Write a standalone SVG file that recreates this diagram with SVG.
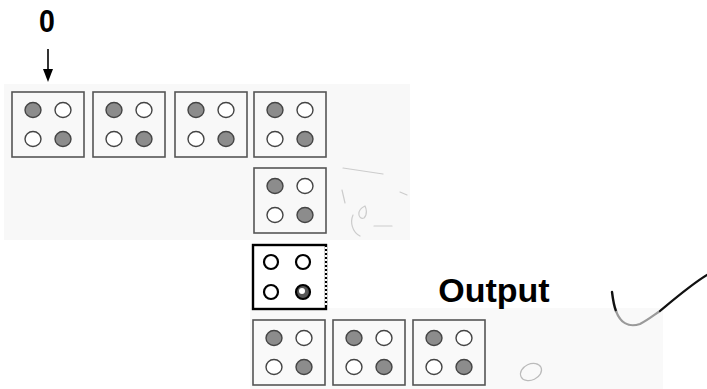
<svg xmlns="http://www.w3.org/2000/svg" width="707" height="389" viewBox="0 0 707 389">
<defs>
<style>
.box{fill:none;stroke:#555;stroke-width:1.6}
.bold{fill:#fff;stroke:#000;stroke-width:2.4}
.on{fill:#8c8c8c;stroke:#444;stroke-width:1.4}
.off{fill:#fff;stroke:#444;stroke-width:1.4}
.bon{fill:#555;stroke:#000;stroke-width:2.2}
.boff{fill:#fff;stroke:#000;stroke-width:2.2}
.lbl{font-family:"Liberation Sans",Arial,sans-serif;font-weight:bold;fill:#000}
.faint{fill:none;stroke:#ccc;stroke-width:1.2;stroke-linecap:round}
</style>
<g id="cell">
<rect class="box" x="0" y="0" width="72" height="65"/>
<ellipse class="on" cx="21" cy="18" rx="8" ry="7.5"/>
<ellipse class="off" cx="51" cy="18" rx="8" ry="7.5"/>
<ellipse class="off" cx="21" cy="47" rx="8" ry="7.5"/>
<ellipse class="on" cx="51" cy="47" rx="8" ry="7.5"/>
</g>
</defs>
<rect x="4" y="84" width="406" height="156" fill="#f8f8f8"/>
<rect x="250" y="308" width="413" height="81" fill="#f9f9f9"/>
<text class="lbl" x="47" y="32" font-size="31" text-anchor="middle" transform="translate(47 0) scale(0.92 1) translate(-47 0)">0</text>
<g id="connectors">
<line x1="48" y1="49" x2="48" y2="70" stroke="#000" stroke-width="1.6"/>
<polygon points="43,69 53,69 48,82" fill="#000"/>
</g>
<g id="n1"><use href="#cell" x="12" y="92"/></g>
<g id="n2"><use href="#cell" x="93" y="92"/></g>
<g id="n3"><use href="#cell" x="175" y="92"/></g>
<g id="n4"><use href="#cell" x="254" y="92"/></g>
<g id="n5"><use href="#cell" x="254" y="168"/></g>
<g id="n6">
<rect class="bold" x="253" y="245" width="73" height="64"/>
<line x1="326" y1="247" x2="326" y2="307" stroke="#fff" stroke-width="2" stroke-dasharray="2 2"/>
<circle class="boff" cx="271" cy="262" r="7"/>
<circle class="boff" cx="303" cy="262" r="7"/>
<circle class="boff" cx="271" cy="292" r="7"/>
<circle class="bon" cx="303" cy="292" r="7"/>
<circle cx="302" cy="291" r="3" fill="#fff"/>
</g>
<g id="n7"><use href="#cell" x="253" y="320"/></g>
<g id="n8"><use href="#cell" x="333" y="320"/></g>
<g id="n9"><use href="#cell" x="413" y="320"/></g>
<text class="lbl" x="494" y="302" font-size="34" text-anchor="middle">Output</text>
<path d="M612,292 C613,300 614,306 616,311" fill="none" stroke="#111" stroke-width="2.4" stroke-linecap="round"/>
<path d="M616,311 C620,322 628,328 640,324 C648,320 654,315 660,311" fill="none" stroke="#9a9a9a" stroke-width="2.2"/>
<path d="M660,311 C678,296 692,284 707,275" fill="none" stroke="#111" stroke-width="2.2" stroke-linecap="round"/>
<ellipse cx="531" cy="372" rx="11" ry="8" transform="rotate(-25 531 372)" fill="none" stroke="#bbb" stroke-width="1.2"/>
<path class="faint" d="M343,168 L383,174"/>
<path class="faint" d="M342,190 L345,203"/>
<path class="faint" d="M365,206 C356,210 358,220 364,218 C368,214 366,208 365,206"/>
<path class="faint" d="M353,215 C350,222 352,232 360,236"/>
<path class="faint" d="M374,226 L392,226"/>
<path class="faint" d="M400,192 L407,195"/>
</svg>
